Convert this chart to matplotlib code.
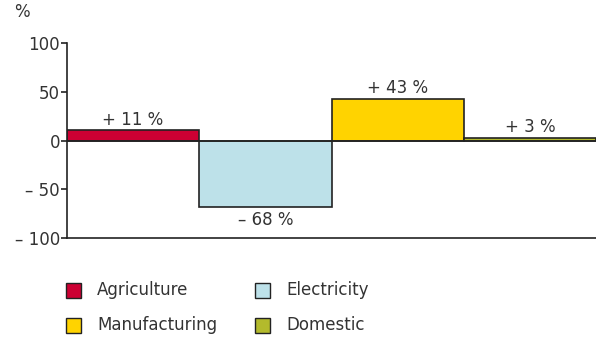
import matplotlib.pyplot as plt
from matplotlib.patches import Rectangle

sectors = ["Agriculture", "Electricity", "Manufacturing", "Domestic"]
change = [11, -68, 43, 3]
labels = ["+ 11 %", "\u2013 68 %", "+ 43 %", "+ 3 %"]
colors = ["#CC0033", "#BDE1E9", "#FFD300", "#B3BA2C"]
yticks = [-100, -50, 0, 50, 100]
ytick_labels = ["\u2013 100", "\u2013 50", "0", "50", "100"]

W, H = 596, 338
plt.rcParams.update({"font.size": 12, "font.family": "DejaVu Sans"})
fig = plt.figure(figsize=(W / 100, H / 100), dpi=100)
ax = fig.add_axes([67 / W, 1 - 238 / H, 1 - 67 / W, 195 / H])

x = range(len(sectors))
ax.bar(x, change, width=1.0, align="edge", color=colors, edgecolor="#222222", linewidth=1.2)
ax.axhline(0, color="#222222", linewidth=1.2)

for i, (v, t) in enumerate(zip(change, labels)):
    if v >= 0:
        ax.text(i + 0.5, v + 10.5, t, ha="center", va="center", color="#333333")
    else:
        ax.text(i + 0.5, v - 14, t, ha="center", va="center", color="#333333")

ax.set_xlim(0, 4)
ax.set_ylim(-100, 100)
ax.set_yticks(yticks)
ax.set_yticklabels(ytick_labels, color="#333333")
ax.set_xticks([])
ax.tick_params(axis="y", length=4, width=1.2, color="#222222", pad=1)
for s in ["top", "right"]:
    ax.spines[s].set_visible(False)
for s in ["left", "bottom"]:
    ax.spines[s].set_color("#222222")
    ax.spines[s].set_linewidth(1.2)

fig.text(14 / W, 1 - 12 / H, "%", ha="left", va="center", color="#333333")

# legend, two columns: Agriculture/Manufacturing and Electricity/Domestic
sq = 15
slots = [(66, 290), (255, 290), (66, 325), (255, 325)]
order = [0, 1, 2, 3]
for (lx, ly), i in zip(slots, order):
    fig.add_artist(Rectangle((lx / W, 1 - (ly + sq / 2) / H), sq / W, sq / H,
                             transform=fig.transFigure, facecolor=colors[i],
                             edgecolor="#222222", linewidth=1.0))
    fig.text((lx + 31) / W, 1 - ly / H, sectors[i], ha="left", va="center", color="#333333")

fig.savefig("out.png", dpi=100)
